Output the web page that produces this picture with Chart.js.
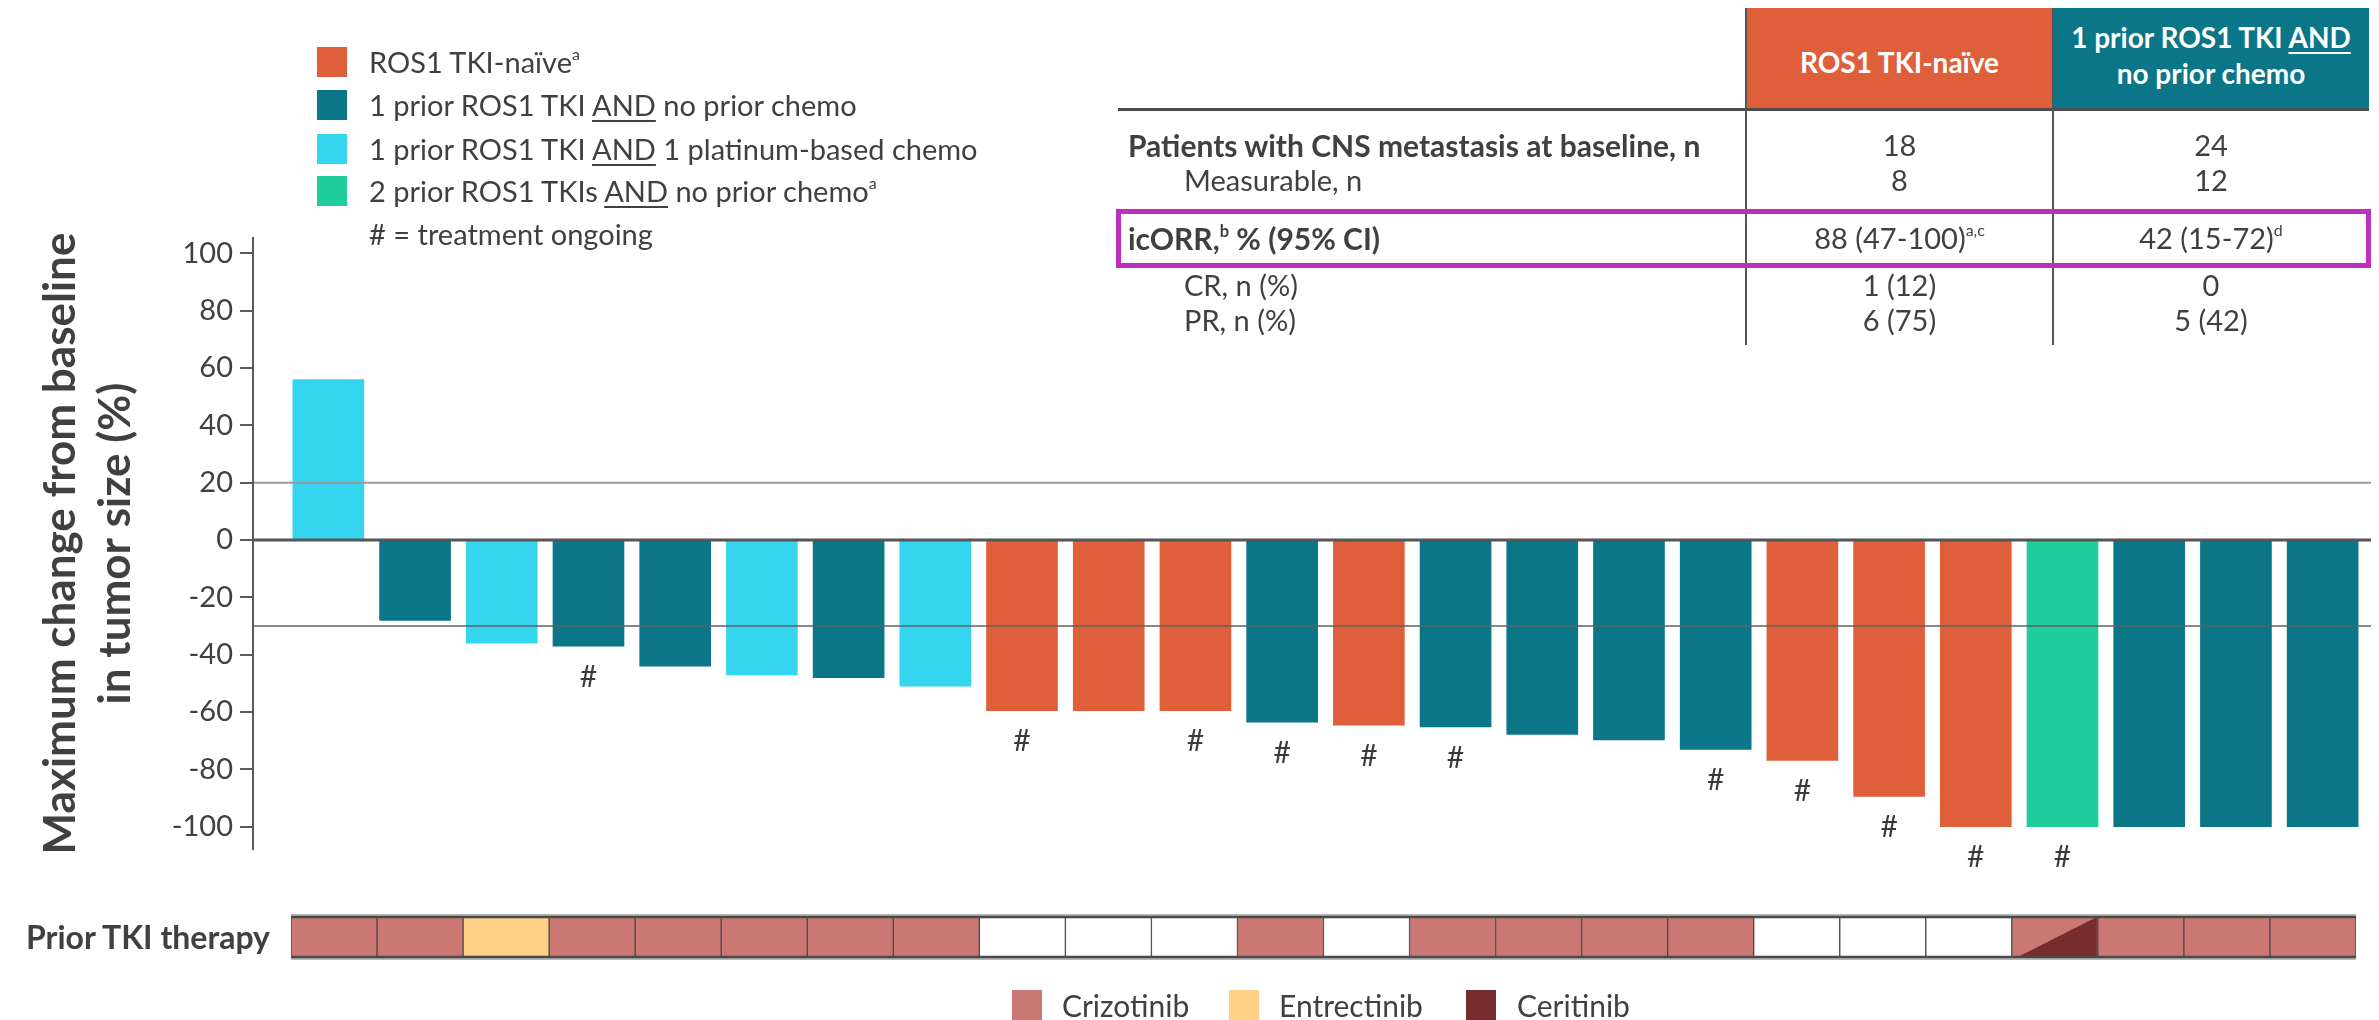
<!DOCTYPE html>
<html>
<head>
<meta charset="utf-8">
<script src="https://cdn.jsdelivr.net/npm/chart.js@4.4.1/dist/chart.umd.min.js"></script>
<style>
  html, body { margin: 0; padding: 0; background: #fff; }
  body { width: 2379px; height: 1020px; position: relative; overflow: hidden;
         font-family: Lato, "Open Sans", sans-serif; color: #404040; }
  canvas { position: absolute; left: 0; }
  .abs { position: absolute; white-space: nowrap; }
  .u { text-decoration: underline; text-decoration-thickness: 2px; text-underline-offset: 4px; }
  sup { font-size: 0.55em; vertical-align: 0.8em; line-height: 0; }
</style>
</head>
<body>
<canvas id="waterfall" width="2379" height="1020" style="top:0"></canvas>
<canvas id="tkiRow" width="2379" height="75" style="top:900px"></canvas>
<div id="overlay"></div>
<script>
// ---- Data -------------------------------------------------------------
const patients = ['P1','P2','P3','P4','P5','P6','P7','P8','P9','P10','P11','P12',
                  'P13','P14','P15','P16','P17','P18','P19','P20','P21','P22','P23','P24'];

// best % change in intracranial tumour size
const changes = [56, -28, -36, -37, -44, -47, -48, -51, -59.5, -59.5, -59.5, -63.5,
                 -64.6, -65.2, -67.8, -69.7, -73, -76.9, -89.4, -100, -100, -100, -100, -100];

// treatment group of each patient
const groups = ['p1chemo','p1noChemo','p1chemo','p1noChemo','p1noChemo','p1chemo','p1noChemo','p1chemo',
                'naive','naive','naive','p1noChemo','naive','p1noChemo','p1noChemo','p1noChemo',
                'p1noChemo','naive','naive','naive','p2noChemo','p1noChemo','p1noChemo','p1noChemo'];

// 1 = treatment ongoing
const ongoing = [0,0,0,1,0,0,0,0,1,0,1,1,1,1,0,0,1,1,1,1,1,0,0,0];

// prior TKI received ('' = none, '+' = two agents)
const priorTki = ['Crizotinib','Crizotinib','Entrectinib','Crizotinib','Crizotinib','Crizotinib','Crizotinib','Crizotinib',
                  '','','','Crizotinib','','Crizotinib','Crizotinib','Crizotinib',
                  'Crizotinib','','','','Crizotinib+Ceritinib','Crizotinib','Crizotinib','Crizotinib'];

const yTicks = [-100, -80, -60, -40, -20, 0, 20, 40, 60, 80, 100];
const referenceLevels = [20, 0, -30];

const groupOrder = ['naive', 'p1noChemo', 'p1chemo', 'p2noChemo'];
const groupLabels = {
  naive: 'ROS1 TKI-naïve<sup>a</sup>',
  p1noChemo: '1 prior ROS1 TKI <span class="u">AND</span> no prior chemo',
  p1chemo: '1 prior ROS1 TKI <span class="u">AND</span> 1 platinum-based chemo',
  p2noChemo: '2 prior ROS1 TKIs <span class="u">AND</span> no prior chemo<sup>a</sup>'
};
const ongoingNote = '# = treatment ongoing';
const tkiNames = ['Crizotinib', 'Entrectinib', 'Ceritinib'];

const tableHeaders = ['ROS1 TKI-naïve', '1 prior ROS1 TKI <span class="u">AND</span><br>no prior chemo'];
const tableRowLabels = ['Patients with CNS metastasis at baseline, n', 'Measurable, n',
                        'icORR,<sup>b</sup> % (95% CI)', 'CR, n (%)', 'PR, n (%)'];
const tableRowBold = [true, false, true, false, false];
const naiveColumn = ['18', '8', '88 (47-100)<sup>a,c</sup>', '1 (12)', '6 (75)'];
const priorColumn = ['24', '12', '42 (15-72)<sup>d</sup>', '0', '5 (42)'];

// ---- Styles -----------------------------------------------------------
const groupColors = { naive: '#E05F3B', p1noChemo: '#0B7687', p1chemo: '#35D5EF', p2noChemo: '#1FCE9C' };
const tkiColors = { Crizotinib: '#CB7875', Entrectinib: '#FFD186', Ceritinib: '#772D2D' };
const refStyles = { '20': { color: '#9a9a9a', width: 2 }, '0': { color: '#555555', width: 3 }, '-30': { color: '#606060', width: 1.5 } };
const textColor = '#404040';
const axisColor = '#5a5a5a';
const axisX = 253;         // the value axis sits a little left of the first bar slot
const tickLen = 13;

Chart.defaults.font.family = 'Lato';

// value axis line with its tick marks
const axisPlugin = {
  id: 'valueAxis',
  afterDraw(chart) {
    const { ctx, chartArea: a, scales: { y } } = chart;
    ctx.save();
    ctx.strokeStyle = axisColor;
    ctx.lineWidth = 2;
    ctx.beginPath();
    ctx.moveTo(axisX, a.top);
    ctx.lineTo(axisX, a.bottom);
    yTicks.forEach(v => {
      const py = Math.round(y.getPixelForValue(v));
      ctx.moveTo(axisX - tickLen, py);
      ctx.lineTo(axisX, py);
    });
    ctx.stroke();
    ctx.restore();
  }
};

// horizontal reference lines at +20 %, 0 and -30 %
const refLinesPlugin = {
  id: 'refLines',
  afterDatasetsDraw(chart) {
    const { ctx, chartArea: a, scales: { y } } = chart;
    referenceLevels.forEach(v => {
      const st = refStyles[String(v)];
      const py = y.getPixelForValue(v);
      ctx.save();
      ctx.strokeStyle = st.color;
      ctx.lineWidth = st.width;
      ctx.beginPath();
      ctx.moveTo(axisX, py);
      ctx.lineTo(a.right + 5, py);
      ctx.stroke();
      ctx.restore();
    });
  }
};

// "#" under bars of patients still on treatment
const ongoingPlugin = {
  id: 'ongoingMarks',
  afterDatasetsDraw(chart) {
    const { ctx } = chart;
    const meta = chart.getDatasetMeta(0);
    ctx.save();
    ctx.fillStyle = '#3a3a3a';
    ctx.font = '30px Lato';
    ctx.textAlign = 'center';
    ctx.textBaseline = 'middle';
    meta.data.forEach((bar, i) => {
      if (!ongoing[i]) return;
      const p = bar.getProps(['x', 'y'], true);
      ctx.fillText('#', p.x, p.y + 31);
    });
    ctx.restore();
  }
};

new Chart(document.getElementById('waterfall'), {
  type: 'bar',
  data: {
    labels: patients,
    datasets: [{
      data: changes,
      backgroundColor: groups.map(g => groupColors[g]),
      borderWidth: 0,
      barThickness: 71
    }]
  },
  options: {
    responsive: false,
    animation: false,
    devicePixelRatio: 1,
    layout: { padding: { top: 237, bottom: 170, left: 0, right: 13 } },
    plugins: { legend: { display: false }, tooltip: { enabled: false } },
    scales: {
      x: { type: 'category', offset: true, display: false },
      y: {
        min: -108.1, max: 105.7,
        afterBuildTicks: s => { s.ticks = yTicks.map(v => ({ value: v })); },
        afterFit: s => { s.width = 285; },
        grid: { display: false, drawTicks: false },
        border: { display: false },
        ticks: { padding: 52, color: textColor, font: { size: 29 } },
        title: {
          display: true,
          text: ['Maximum change from baseline', 'in tumor size (%)'],
          color: textColor,
          font: { size: 44, weight: 'bold', lineHeight: 1.25 },
          padding: { top: 33, bottom: 0 }
        }
      }
    }
  },
  plugins: [axisPlugin, refLinesPlugin, ongoingPlugin]
});

// prior TKI strip: split cells get a diagonal second colour, plus framing rules
const tkiStripPlugin = {
  id: 'tkiStrip',
  afterDatasetsDraw(chart) {
    const { ctx, chartArea: a } = chart;
    const meta = chart.getDatasetMeta(0);
    ctx.save();
    meta.data.forEach((cell, i) => {
      const parts = priorTki[i].split('+');
      if (parts.length < 2) return;
      const p = cell.getProps(['x', 'y', 'base', 'width'], true);
      const l = p.x - p.width / 2, r = p.x + p.width / 2;
      ctx.fillStyle = tkiColors[parts[1]];
      ctx.beginPath();
      ctx.moveTo(l + p.width * 0.07, p.base);
      ctx.lineTo(r - 1, p.y);
      ctx.lineTo(r - 1, p.base);
      ctx.closePath();
      ctx.fill();
    });
    ctx.strokeStyle = '#b8b8b8';
    ctx.lineWidth = 2;
    ctx.beginPath();
    ctx.moveTo(a.left, a.top - 2); ctx.lineTo(a.right, a.top - 2);
    ctx.moveTo(a.left, a.bottom + 2); ctx.lineTo(a.right, a.bottom + 2);
    ctx.stroke();
    ctx.strokeStyle = '#4a4a4a';
    ctx.lineWidth = 2.5;
    ctx.beginPath();
    ctx.moveTo(a.left, a.top); ctx.lineTo(a.right, a.top);
    ctx.moveTo(a.left, a.bottom); ctx.lineTo(a.right, a.bottom);
    ctx.stroke();
    ctx.restore();
  }
};

new Chart(document.getElementById('tkiRow'), {
  type: 'bar',
  data: {
    labels: patients,
    datasets: [{
      data: priorTki.map(() => 1),
      backgroundColor: priorTki.map(t => t ? tkiColors[t.split('+')[0]] : '#ffffff'),
      borderColor: '#4a4a4a',
      borderWidth: { left: 1, right: 1, top: 0, bottom: 0 },
      borderSkipped: false,
      barPercentage: 1,
      categoryPercentage: 1
    }]
  },
  options: {
    responsive: false,
    animation: false,
    devicePixelRatio: 1,
    layout: { padding: { left: 291, right: 23, top: 17, bottom: 18 } },
    plugins: { legend: { display: false }, tooltip: { enabled: false } },
    scales: { x: { display: false }, y: { display: false, min: 0, max: 1 } }
  },
  plugins: [tkiStripPlugin]
});

// ---- Text blocks ------------------------------------------------------
const overlay = document.getElementById('overlay');
function box(html, css) {
  const d = document.createElement('div');
  d.className = 'abs';
  d.innerHTML = html;
  Object.assign(d.style, css);
  overlay.appendChild(d);
  return d;
}

// group legend
const legendRowsY = [62, 105, 149, 191];
groupOrder.forEach((g, i) => {
  const y = legendRowsY[i];
  box('', { left: '317px', top: (y - 15) + 'px', width: '30px', height: '30px', background: groupColors[g] });
  box(groupLabels[g], { left: '369px', top: (y - 20) + 'px', height: '40px', lineHeight: '40px', fontSize: '29px' });
});
box(ongoingNote, { left: '369px', top: '214px', height: '40px', lineHeight: '40px', fontSize: '29px' });

// summary table
const colLeft = [1746, 2053], colWidth = [307, 316];
const headerBg = [groupColors.naive, groupColors.p1noChemo];
tableHeaders.forEach((h, i) => {
  box('<div>' + h + '</div>', {
    left: colLeft[i] + 'px', top: '8px', width: colWidth[i] + 'px', height: '102px',
    background: headerBg[i], color: '#fff', fontWeight: 'bold', fontSize: '28px',
    display: 'flex', alignItems: 'center', justifyContent: 'center', textAlign: 'center',
    lineHeight: '36px', boxSizing: 'border-box', paddingBottom: i ? '8px' : '0', paddingTop: i ? '0' : '6px'
  });
});
box('', { left: '1118px', top: '108px', width: '1251px', height: '3px', background: '#4d4d4d' });
box('', { left: '1745px', top: '8px', width: '2px', height: '337px', background: '#555' });
box('', { left: '2052px', top: '8px', width: '2px', height: '337px', background: '#555' });

const rowY = [145, 180, 238, 285, 320];
tableRowLabels.forEach((lab, i) => {
  box(lab, {
    left: (tableRowBold[i] ? 1128 : 1184) + 'px', top: (rowY[i] - 20) + 'px', height: '40px', lineHeight: '40px',
    fontSize: tableRowBold[i] ? '30px' : '29px', fontWeight: tableRowBold[i] ? 'bold' : 'normal'
  });
  [naiveColumn, priorColumn].forEach((col, c) => {
    box(col[i], {
      left: colLeft[c] + 'px', width: colWidth[c] + 'px', top: (rowY[i] - 20) + 'px', height: '40px',
      lineHeight: '40px', fontSize: '29px', textAlign: 'center'
    });
  });
});
box('', { left: '1116px', top: '209px', width: '1255px', height: '59px', border: '5px solid #BF2FBF', boxSizing: 'border-box' });

// strip label and TKI key
box('Prior TKI therapy', { left: '0px', width: '270px', textAlign: 'right', top: '917px', height: '40px',
                           lineHeight: '40px', fontSize: '32px', fontWeight: 'bold' });
const keySwatchX = [1012, 1229, 1466], keyTextX = [1062, 1279, 1517];
tkiNames.forEach((n, i) => {
  box('', { left: keySwatchX[i] + 'px', top: '990px', width: '30px', height: '30px', background: tkiColors[n] });
  box(n, { left: keyTextX[i] + 'px', top: '985px', height: '40px', lineHeight: '40px', fontSize: '30px' });
});
</script>
</body>
</html>
